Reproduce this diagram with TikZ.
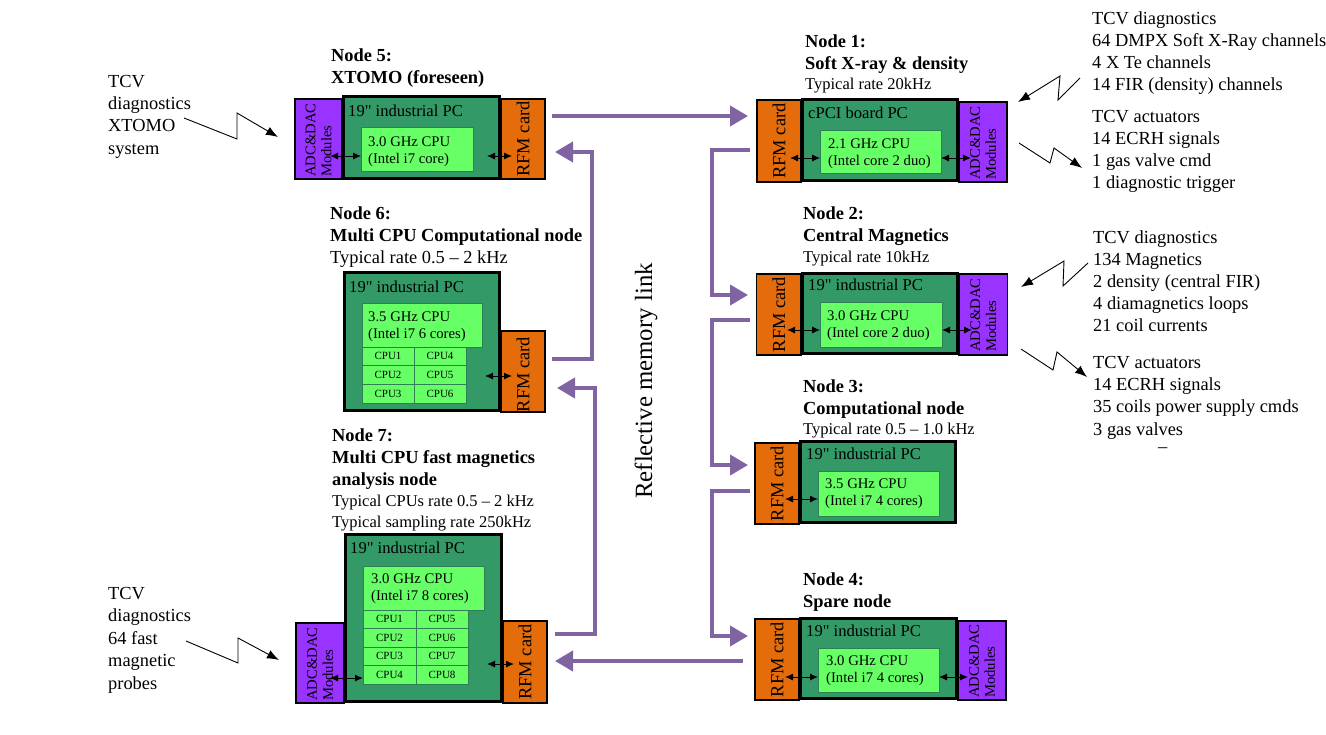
\documentclass[tikz,border=0pt]{standalone}
\usepackage{fontspec}
\setmainfont{Liberation Serif}
\newfontfamily\qfam{Liberation Serif}
\newcommand\inch{{\qfam"}}
\usetikzlibrary{arrows.meta}
\definecolor{pcgreen}{HTML}{339966}
\definecolor{cpugreen}{HTML}{66FF66}
\definecolor{cpuedge}{HTML}{2F7F55}
\definecolor{rfmorange}{HTML}{E46C0A}
\definecolor{adcpurple}{HTML}{9933FF}
\definecolor{linkpurple}{HTML}{8064A2}
\begin{document}
\begin{tikzpicture}[x=1pt,y=-1pt,
  box/.style={anchor=north west, inner sep=0pt, outer sep=0pt},
  pc/.style={box, draw=black, line width=3pt, fill=pcgreen},
  rfm/.style={box, draw=black, line width=1.2pt, fill=rfmorange},
  adc/.style={box, draw=black, line width=1.2pt, fill=adcpurple},
  cpu/.style={box, draw=cpuedge, line width=0.8pt, fill=cpugreen},
  cell/.style={box, draw=cpuedge, line width=0.8pt, fill=cpugreen, minimum width=52pt, font=\fontsize{11}{13}\selectfont},
  lbl/.style={anchor=base west, inner sep=0pt, align=left},
  big/.style={lbl, font=\fontsize{18.4}{22.2}\selectfont},
  bold/.style={lbl, font=\bfseries\fontsize{18.4}{22}\selectfont},
  mid/.style={lbl, font=\fontsize{16.5}{20.5}\selectfont},
  pct/.style={lbl, font=\fontsize{16.6}{20}\selectfont},
  cput/.style={lbl, font=\fontsize{14.7}{17.5}\selectfont},
  rfmt/.style={rotate=90, inner sep=0pt, font=\fontsize{18.4}{22}\selectfont},
  adct/.style={rotate=90, anchor=west, inner sep=0pt, align=left, font=\fontsize{14.7}{16}\selectfont},
  link/.style={draw=linkpurple, line width=4pt, -{Triangle[length=18pt,width=20pt]}},
  dbl/.style={line width=0.9pt, {Latex[length=8pt,width=7pt]}-{Latex[length=8pt,width=7pt]}},
  bolt/.style={line width=0.9pt, -{Latex[length=12pt,width=9pt]}}
]
\useasboundingbox (0,0) rectangle (1326,734);

% ---------------- Node 5 ----------------
\node[adc, minimum width=47pt, minimum height=80pt] (adc5) at (295,99) {};
\node[rfm, minimum width=44pt, minimum height=80pt] (rfm5) at (501,99) {};
\node[pc, minimum width=156pt, minimum height=82pt] (pc5) at (343.5,96.5) {};
\node[cpu, minimum width=112pt, minimum height=44pt] (cpu5) at (361,127) {};
\node[adct] (adc5t) at (adc5.south |- 0,177) {ADC\&DAC\\Modules};
\node[rfmt] (rfm5t) at (rfm5.center) {RFM card};
\node[pct] (pc5t) at (348,116) {19\inch{} industrial PC};
\node[cput] (cpu5t) at (368,163.5) {3.0 GHz CPU\\(Intel i7 core)};
\node[bold] (ttl5) at (331,83) {Node 5:\\XTOMO (foreseen)};
\node[big] (in5) at (108,154) {TCV\\diagnostics\\XTOMO\\system};
\draw[dbl] (330,156) -- (cpu5.west |- 0,156);
\draw[dbl] (487,156) -- (512,156);
\draw[bolt] (184,118) -- (237,139) -- (237,113) -- (278,137);

% ---------------- Node 6 ----------------
\node[rfm, minimum width=44pt, minimum height=81pt] (rfm6) at (501,331) {};
\node[pc, minimum width=155pt, minimum height=138pt] (pc6) at (344.5,272.5) {};
\node[cpu, minimum width=120pt, minimum height=44pt] (cpu6) at (362,303) {};
\node[cell, minimum height=18.7pt] (c61) at (362,347) {CPU1};
\node[cell, minimum height=18.7pt] (c62) at (362,365.7) {CPU2};
\node[cell, minimum height=18.7pt] (c63) at (362,384.4) {CPU3};
\node[cell, minimum height=18.7pt] (c64) at (414,347) {CPU4};
\node[cell, minimum height=18.7pt] (c65) at (414,365.7) {CPU5};
\node[cell, minimum height=18.7pt] (c66) at (414,384.4) {CPU6};
\node[rfmt] (rfm6t) at ([yshift=-3pt]rfm6.center) {RFM card};
\node[pct] (pc6t) at (349,292) {19\inch{} industrial PC};
\node[cput] (cpu6t) at (368,338.5) {3.5 GHz CPU\\(Intel i7 6 cores)};
\node[big, font=\fontsize{18.4}{22}\selectfont] (ttl6) at (330,263) {\textbf{Node 6:}\\\textbf{Multi CPU Computational node}\\Typical rate 0.5 – 2 kHz};
\draw[dbl] (485,376) -- (512,376);

% ---------------- Node 7 ----------------
\node[adc, minimum width=48pt, minimum height=80pt] (adc7) at (296,623) {};
\node[rfm, minimum width=44pt, minimum height=82pt] (rfm7) at (503,621) {};
\node[pc, minimum width=156pt, minimum height=167pt] (pc7) at (345.5,534.5) {};
\node[cpu, minimum width=121pt, minimum height=44pt] (cpu7) at (363,566) {};
\node[cell, minimum width=53pt, minimum height=18.5pt] (c71) at (363,610) {CPU1};
\node[cell, minimum width=53pt, minimum height=18.5pt] (c72) at (363,628.5) {CPU2};
\node[cell, minimum width=53pt, minimum height=18.5pt] (c73) at (363,647) {CPU3};
\node[cell, minimum width=53pt, minimum height=18.5pt] (c74) at (363,665.5) {CPU4};
\node[cell, minimum height=18.5pt] (c75) at (416,610) {CPU5};
\node[cell, minimum height=18.5pt] (c76) at (416,628.5) {CPU6};
\node[cell, minimum height=18.5pt] (c77) at (416,647) {CPU7};
\node[cell, minimum height=18.5pt] (c78) at (416,665.5) {CPU8};
\node[adct] (adc7t) at (adc7.south |- 0,701) {ADC\&DAC\\Modules};
\node[rfmt] (rfm7t) at (rfm7.center) {RFM card};
\node[pct] (pc7t) at (350,553) {19\inch{} industrial PC};
\node[cput] (cpu7t) at (371,600.5) {3.0 GHz CPU\\(Intel i7 8 cores)};
\node[bold] (ttl7) at (332,485) {Node 7:\\Multi CPU fast magnetics\\analysis node};
\node[mid] (rate7) at (332,527) {Typical CPUs rate 0.5 – 2 kHz\\Typical sampling rate 250kHz};
\node[big, font=\fontsize{18.4}{22.5}\selectfont] (in7) at (108,689) {TCV\\diagnostics\\64 fast\\magnetic\\probes};
\draw[dbl] (330,678) -- (cpu7.west |- 0,678);
\draw[dbl] (487,664) -- (514,664);
\draw[bolt] (186,641) -- (238,663) -- (238,638) -- (279,660);

% ---------------- Node 1 ----------------
\node[rfm, minimum width=44pt, minimum height=82pt] (rfm1) at (757,100) {};
\node[adc, minimum width=48pt, minimum height=80pt] (adc1) at (959,102) {};
\node[pc, minimum width=155pt, minimum height=81pt] (pc1) at (802.5,99.5) {};
\node[cpu, minimum width=121pt, minimum height=43pt] (cpu1) at (820,130) {};
\node[rfmt] (rfm1t) at (rfm1.center) {RFM card};
\node[adct] (adc1t) at (adc1.south |- 0,180) {ADC\&DAC\\Modules};
\node[pct] (pc1t) at (808,118) {cPCI board PC};
\node[cput] (cpu1t) at (828,165.5) {2.1 GHz CPU\\(Intel core 2 duo)};
\node[bold] (ttl1) at (805,69) {Node 1:\\Soft X-ray \& density};
\node[mid] (rate1) at (805,89.5) {Typical rate 20kHz};
\node[big, font=\fontsize{18.4}{22}\selectfont] (diag1) at (1092,90) {TCV diagnostics\\64 DMPX Soft X-Ray channels\\4 X Te channels\\14 FIR (density) channels};
\node[big, font=\fontsize{18.4}{22}\selectfont] (act1) at (1092,188) {TCV actuators\\14 ECRH signals\\1 gas valve cmd\\1 diagnostic trigger};
\draw[dbl] (790,158) -- (cpu1.west |- 0,158);
\draw[dbl] (cpu1.east |- 0,158) -- (971,158);
\draw[bolt] (1080,78) -- (1058,100) -- (1060,76) -- (1018,102);
\draw[bolt] (1019,143) -- (1050,163) -- (1054,148) -- (1082,168);

% ---------------- Node 2 ----------------
\node[rfm, minimum width=44.5pt, minimum height=81pt] (rfm2) at (756.5,274) {};
\node[adc, minimum width=48.5pt, minimum height=81pt] (adc2) at (959,274) {};
\node[pc, minimum width=155pt, minimum height=80pt] (pc2) at (802.5,273.5) {};
\node[cpu, minimum width=122pt, minimum height=45pt] (cpu2) at (820,302) {};
\node[rfmt] (rfm2t) at (rfm2.center) {RFM card};
\node[adct] (adc2t) at (adc2.south |- 0,352) {ADC\&DAC\\Modules};
\node[pct] (pc2t) at (808,290) {19\inch{} industrial PC};
\node[cput] (cpu2t) at (827,337.5) {3.0 GHz CPU\\(Intel core 2 duo)};
\node[bold] (ttl2) at (803,241.5) {Node 2:\\Central Magnetics};
\node[mid] (rate2) at (803,262.5) {Typical rate 10kHz};
\node[big, font=\fontsize{18.4}{22}\selectfont] (diag2) at (1093,331) {TCV diagnostics\\134 Magnetics\\2 density (central FIR)\\4 diamagnetics loops\\21 coil currents};
\node[big, font=\fontsize{18.4}{22.3}\selectfont] (act2) at (1093,435) {TCV actuators\\14 ECRH signals\\35 coils power supply cmds\\3 gas valves};
\node[big] (dash2) at (1158,452) {–};
\draw[dbl] (787,330) -- (cpu2.west |- 0,330);
\draw[dbl] (cpu2.east |- 0,330) -- (972,330);
\draw[bolt] (1088,263) -- (1063,286) -- (1064,261) -- (1021,287);
\draw[bolt] (1021,349) -- (1053,370) -- (1057,352) -- (1087,377);

% ---------------- Node 3 ----------------
\node[rfm, minimum width=44pt, minimum height=81pt] (rfm3) at (755,443) {};
\node[pc, minimum width=155pt, minimum height=81pt] (pc3) at (800.5,441.5) {};
\node[cpu, minimum width=121pt, minimum height=45pt] (cpu3) at (818,471) {};
\node[rfmt] (rfm3t) at (rfm3.center) {RFM card};
\node[pct] (pc3t) at (806,459) {19\inch{} industrial PC};
\node[cput] (cpu3t) at (825,505.5) {3.5 GHz CPU\\(Intel i7 4 cores)};
\node[bold] (ttl3) at (803,414) {Node 3:\\Computational node};
\node[mid] (rate3) at (803,434.5) {Typical rate 0.5 – 1.0 kHz};
\draw[dbl] (785,499) -- (cpu3.west |- 0,499);

% ---------------- Node 4 ----------------
\node[rfm, minimum width=44pt, minimum height=81pt] (rfm4) at (755,619) {};
\node[adc, minimum width=48pt, minimum height=79pt] (adc4) at (958,621) {};
\node[pc, minimum width=156pt, minimum height=80pt] (pc4) at (800.5,618.5) {};
\node[cpu, minimum width=121pt, minimum height=44pt] (cpu4) at (818,648) {};
\node[rfmt] (rfm4t) at (rfm4.center) {RFM card};
\node[adct] (adc4t) at (adc4.south |- 0,698) {ADC\&DAC\\Modules};
\node[pct] (pc4t) at (806,636) {19\inch{} industrial PC};
\node[cput] (cpu4t) at (826,682.5) {3.0 GHz CPU\\(Intel i7 4 cores)};
\node[bold] (ttl4) at (803,607) {Node 4:\\Spare node};
\draw[dbl] (785,677) -- (cpu4.west |- 0,677);
\draw[dbl] (cpu4.east |- 0,677) -- (968,677);

% ---------------- Reflective memory link ----------------
\node[rotate=90, inner sep=0pt, font=\fontsize{24.8}{28}\selectfont] (rml) at (646,381) {Reflective memory link};
\draw[link, shorten <=7pt, shorten >=9pt] (rfm5.east |- 0,116) -- (rfm1.west |- 0,116);
\draw[link, shorten <=7pt, shorten >=8.5pt] (rfm1.west |- 0,150) -| (712,295) -- (rfm2.west |- 0,295);
\draw[link, shorten <=6.5pt, shorten >=7pt] (rfm2.west |- 0,320) -| (712,465) -- (rfm3.west |- 0,465);
\draw[link, shorten <=5pt, shorten >=7pt] (rfm3.west |- 0,491) -| (712,636) -- (rfm4.west |- 0,636);
\draw[link, shorten <=12pt, shorten >=8pt] (rfm4.west |- 0,661) -- (rfm7.east |- 0,661);
\draw[link, shorten <=8pt, shorten >=12pt] (rfm7.east |- 0,634) -| (595,388) -- (rfm6.east |- 0,388);
\draw[link, shorten <=7pt, shorten >=10pt] (rfm6.east |- 0,359) -| (592,152) -- (rfm5.east |- 0,152);
\end{tikzpicture}
\end{document}
